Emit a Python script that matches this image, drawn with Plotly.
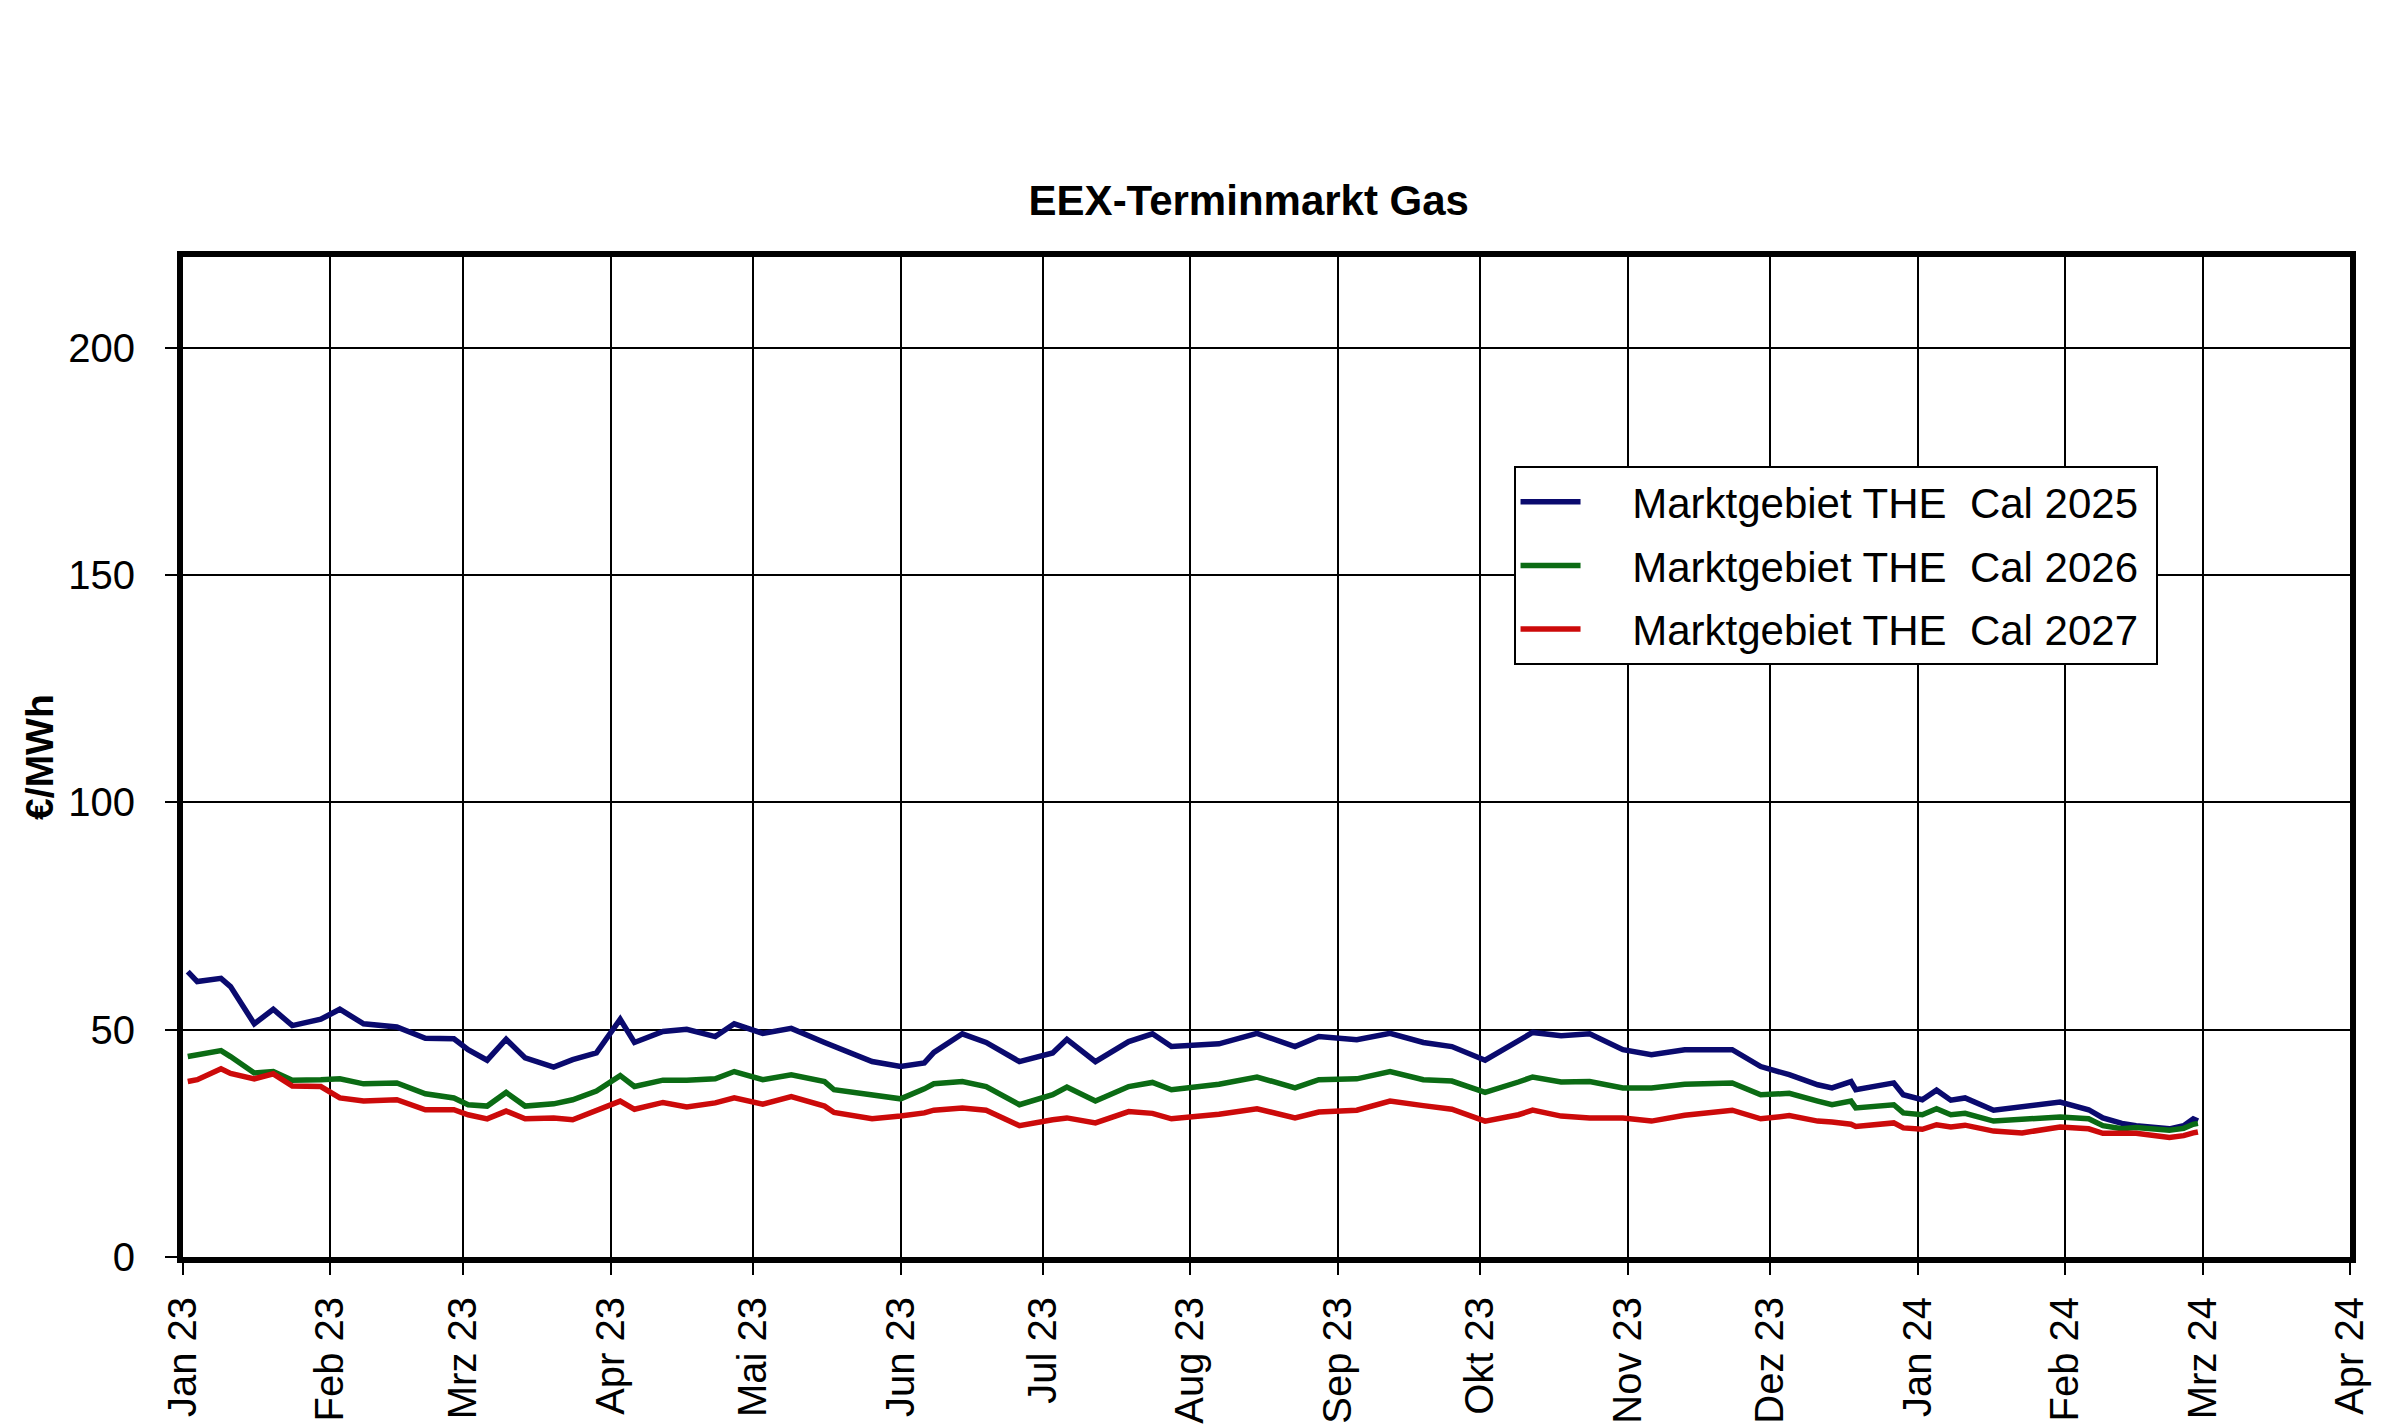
import plotly.graph_objects as go

# trading dates (sampled) and settlement prices in EUR/MWh
dates = [
    "2023-01-02", "2023-01-04", "2023-01-09", "2023-01-11", "2023-01-16", "2023-01-20",
    "2023-01-24", "2023-01-30", "2023-02-03", "2023-02-08", "2023-02-15", "2023-02-21",
    "2023-02-27", "2023-03-02", "2023-03-06", "2023-03-10", "2023-03-14", "2023-03-20",
    "2023-03-24", "2023-03-29", "2023-04-03", "2023-04-06", "2023-04-12", "2023-04-17",
    "2023-04-23", "2023-04-27", "2023-05-03", "2023-05-09", "2023-05-16", "2023-05-18",
    "2023-05-26", "2023-06-01", "2023-06-06", "2023-06-08", "2023-06-14", "2023-06-19",
    "2023-06-26", "2023-07-03", "2023-07-06", "2023-07-12", "2023-07-19", "2023-07-24",
    "2023-07-28", "2023-08-07", "2023-08-15", "2023-08-23", "2023-08-28", "2023-09-05",
    "2023-09-12", "2023-09-19", "2023-09-25", "2023-10-02", "2023-10-09", "2023-10-12",
    "2023-10-18", "2023-10-24", "2023-10-31", "2023-11-06", "2023-11-13", "2023-11-23",
    "2023-11-29", "2023-12-05", "2023-12-11", "2023-12-14", "2023-12-18", "2023-12-19",
    "2023-12-27", "2023-12-29", "2024-01-02", "2024-01-05", "2024-01-08", "2024-01-11",
    "2024-01-17", "2024-01-23", "2024-01-31", "2024-02-06", "2024-02-09", "2024-02-13",
    "2024-02-16", "2024-02-23", "2024-02-26", "2024-02-28", "2024-02-29",
]

cal2025 = [
    62.8, 60.6, 61.3, 59.5, 51.3, 54.5, 50.9, 52.3, 54.5, 51.3, 50.6, 48.1,
    48.0, 45.6, 43.3, 47.9, 43.8, 41.8, 43.4, 44.9, 52.3, 47.2, 49.6, 50.1,
    48.5, 51.3, 49.2, 50.3, 47.2, 46.3, 43.0, 41.9, 42.7, 45.0, 49.1, 47.2,
    43.0, 44.9, 47.9, 43.0, 47.4, 49.1, 46.3, 46.9, 49.2, 46.3, 48.5, 47.8,
    49.2, 47.2, 46.3, 43.3, 47.4, 49.4, 48.7, 49.1, 45.6, 44.5, 45.6, 45.6,
    41.9, 40.1, 37.9, 37.2, 38.6, 36.8, 38.3, 35.7, 34.6, 36.7, 34.5, 35.0,
    32.3, 33.2, 34.1, 32.4, 30.6, 29.4, 28.9, 28.2, 28.9, 30.4, 29.9,
]

cal2026 = [
    44.1, 44.5, 45.4, 44.1, 40.5, 40.8, 38.9, 39.0, 39.2, 38.1, 38.3, 35.9,
    35.0, 33.5, 33.2, 36.2, 33.2, 33.7, 34.6, 36.5, 39.9, 37.5, 38.9, 38.9,
    39.2, 40.8, 39.0, 40.1, 38.6, 36.8, 35.5, 34.8, 37.0, 38.1, 38.6, 37.5,
    33.5, 35.7, 37.4, 34.3, 37.5, 38.4, 36.8, 38.0, 39.6, 37.2, 39.0, 39.2,
    40.8, 39.0, 38.7, 36.2, 38.5, 39.6, 38.5, 38.6, 37.2, 37.2, 38.0, 38.3,
    35.7, 36.0, 34.3, 33.5, 34.3, 32.8, 33.5, 31.7, 31.3, 32.6, 31.3, 31.6,
    29.9, 30.2, 30.8, 30.4, 28.9, 28.2, 28.5, 27.9, 28.3, 29.2, 29.4,
]

cal2027 = [
    38.6, 39.0, 41.4, 40.4, 39.2, 40.3, 37.6, 37.5, 35.0, 34.3, 34.6, 32.4,
    32.4, 31.3, 30.4, 32.1, 30.4, 30.6, 30.2, 32.3, 34.3, 32.5, 34.0, 33.0,
    33.9, 35.0, 33.6, 35.3, 33.2, 31.8, 30.4, 31.0, 31.7, 32.3, 32.8, 32.3,
    28.9, 30.2, 30.6, 29.5, 32.0, 31.6, 30.4, 31.4, 32.6, 30.6, 31.9, 32.3,
    34.3, 33.3, 32.5, 29.9, 31.3, 32.3, 31.0, 30.6, 30.6, 29.9, 31.2, 32.3,
    30.4, 31.1, 29.9, 29.7, 29.2, 28.7, 29.5, 28.4, 28.1, 29.1, 28.6, 29.0,
    27.7, 27.3, 28.6, 28.2, 27.2, 27.2, 27.2, 26.3, 26.7, 27.3, 27.5,
]

series_names = ["Marktgebiet THE  Cal 2025", "Marktgebiet THE  Cal 2026", "Marktgebiet THE  Cal 2027"]
series_colors = ["#0a0a6e", "#0b6b14", "#cc0a0a"]

# monthly ticks with German month abbreviations
tick_dates = [
    "2023-01-01", "2023-02-01", "2023-03-01", "2023-04-01", "2023-05-01", "2023-06-01",
    "2023-07-01", "2023-08-01", "2023-09-01", "2023-10-01", "2023-11-01", "2023-12-01",
    "2024-01-01", "2024-02-01", "2024-03-01", "2024-04-01",
]
tick_labels = [
    "Jan 23", "Feb 23", "Mrz 23", "Apr 23", "Mai 23", "Jun 23", "Jul 23", "Aug 23",
    "Sep 23", "Okt 23", "Nov 23", "Dez 23", "Jan 24", "Feb 24", "Mrz 24", "Apr 24",
]
y_ticks = [0, 50, 100, 150, 200]

fig = go.Figure()
for i, vals in enumerate([cal2025, cal2026, cal2027]):
    fig.add_trace(go.Scatter(x=dates, y=vals, mode="lines",
                             name="\u00a0\u00a0\u00a0\u00a0" + series_names[i] + "\u00a0",
                             legendgroup=str(i),
                             line=dict(color=series_colors[i], width=5.5)))

font = "Liberation Sans, Arial, sans-serif"

fig.update_layout(
    width=2400, height=1428,
    paper_bgcolor="white", plot_bgcolor="white",
    margin=dict(l=175, r=58, t=249, b=170),
    font=dict(family=font, size=40, color="black"),
    title=dict(text="<b>EEX-Terminmarkt Gas</b>", x=0.517, xanchor="center",
               y=1 - 192 / 1428, yanchor="middle", yref="container",
               font=dict(size=42, family=font)),
    legend=dict(x=0.614, y=0.791, xanchor="left", yanchor="top",
                bgcolor="white", bordercolor="black", borderwidth=2,
                font=dict(size=42), tracegroupgap=6, itemwidth=60),
    showlegend=True,
)

fig.update_xaxes(
    type="date", range=["2023-01-01", "2024-04-01"],
    tickvals=tick_dates, ticktext=tick_labels, tickangle=-90,
    showgrid=True, gridcolor="black", gridwidth=1.5,
    showline=True, linecolor="black", linewidth=6, mirror=True,
    ticks="outside", ticklen=12, tickwidth=1.5, tickcolor="black",
    ticklabelstandoff=6, zeroline=False,
)
fig.update_yaxes(
    range=[0, 220], tickvals=y_ticks,
    showgrid=True, gridcolor="black", gridwidth=1.5,
    showline=True, linecolor="black", linewidth=6, mirror=True,
    ticks="outside", ticklen=12, tickwidth=1.5, tickcolor="black",
    ticklabelstandoff=22, zeroline=False,
)

fig.add_annotation(text="<b>€/MWh</b>", xref="paper", yref="paper",
                   x=-0.0665, y=0.5, xanchor="center", yanchor="middle",
                   textangle=-90, showarrow=False, font=dict(size=39))

fig.write_html("out.html")
